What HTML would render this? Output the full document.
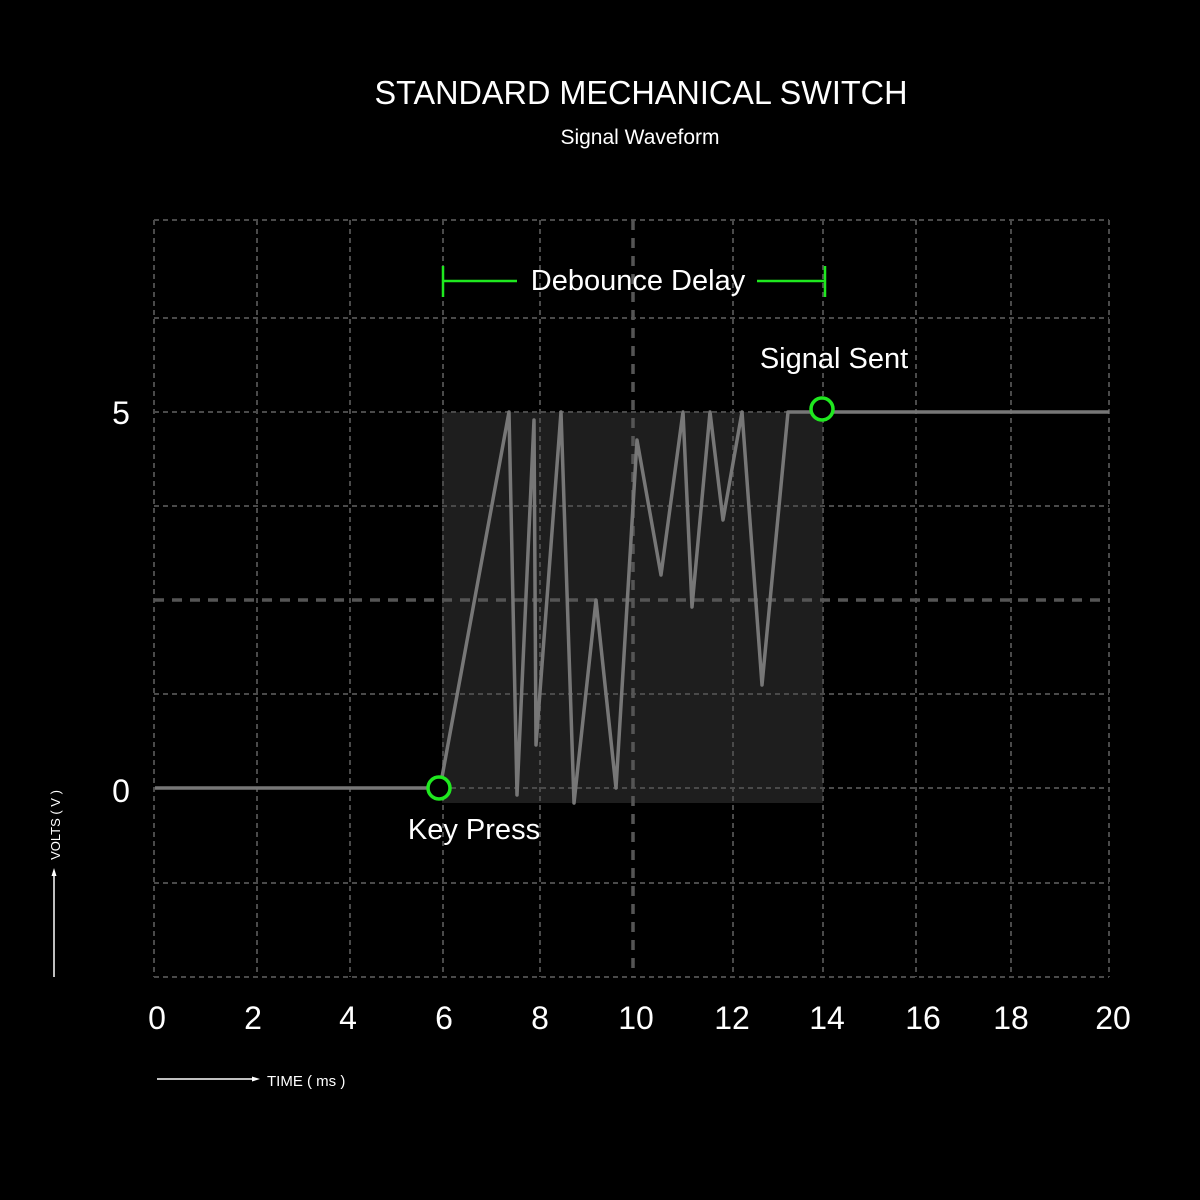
<!DOCTYPE html>
<html><head><meta charset="utf-8"><style>
html,body{margin:0;padding:0;background:#000;width:1200px;height:1200px;overflow:hidden}
text{font-family:"Liberation Sans",sans-serif;fill:#fff}
</style></head><body>
<svg width="1200" height="1200" viewBox="0 0 1200 1200" xmlns="http://www.w3.org/2000/svg">
<rect width="1200" height="1200" fill="#000"/>
<rect x="442" y="412" width="381" height="391" fill="#1e1e1e"/>
<g stroke="#4a4a4a" stroke-width="2" stroke-dasharray="5,4" fill="none">
<line x1="154" y1="220" x2="154" y2="977"/>
<line x1="257" y1="220" x2="257" y2="977"/>
<line x1="350" y1="220" x2="350" y2="977"/>
<line x1="443" y1="220" x2="443" y2="977"/>
<line x1="540" y1="220" x2="540" y2="977"/>
<line x1="733" y1="220" x2="733" y2="977"/>
<line x1="823" y1="220" x2="823" y2="977"/>
<line x1="916" y1="220" x2="916" y2="977"/>
<line x1="1011" y1="220" x2="1011" y2="977"/>
<line x1="1109" y1="220" x2="1109" y2="977"/>
<line x1="154" y1="220" x2="1109" y2="220"/>
<line x1="154" y1="318" x2="1109" y2="318"/>
<line x1="154" y1="412" x2="1109" y2="412"/>
<line x1="154" y1="506" x2="1109" y2="506"/>
<line x1="154" y1="694" x2="1109" y2="694"/>
<line x1="154" y1="788" x2="1109" y2="788"/>
<line x1="154" y1="883" x2="1109" y2="883"/>
<line x1="154" y1="977" x2="1109" y2="977"/>
</g>
<g stroke="#555" stroke-width="3.5" stroke-dasharray="10,8" fill="none">
<line x1="633" y1="220" x2="633" y2="977"/>
<line x1="154" y1="600" x2="1109" y2="600"/>
</g>
<polyline fill="none" stroke="#777" stroke-width="3.5" stroke-linejoin="round" points="155,788 440,788 509,412 517,795 534,420 536,745 561,412 574,803 596,600 616,788 637,440 661,575 683,412 692,607 710,412 723,520 742,412 762,685 788,412 822,412 1109,412"/>
<circle cx="439" cy="788" r="11" fill="#000" stroke="#1fe81f" stroke-width="3.5"/>
<circle cx="822" cy="409" r="11" fill="#000" stroke="#1fe81f" stroke-width="3.5"/>
<g stroke="#1fe81f" stroke-width="2.5">
<line x1="443" y1="266" x2="443" y2="297"/>
<line x1="443" y1="281" x2="517" y2="281"/>
<line x1="757" y1="281" x2="825" y2="281"/>
<line x1="825" y1="266" x2="825" y2="297"/>
</g>
<text x="641" y="104" font-size="33" text-anchor="middle" textLength="533" lengthAdjust="spacingAndGlyphs">STANDARD MECHANICAL SWITCH</text>
<text x="640" y="144" font-size="21" text-anchor="middle">Signal Waveform</text>
<text x="638" y="290" font-size="29" text-anchor="middle">Debounce Delay</text>
<text x="834" y="368" font-size="29" text-anchor="middle">Signal Sent</text>
<text x="474" y="839" font-size="29" text-anchor="middle">Key Press</text>
<text x="121" y="424" font-size="32" text-anchor="middle">5</text>
<text x="121" y="802" font-size="32" text-anchor="middle">0</text>
<g font-size="32" text-anchor="middle">
<text x="157" y="1029">0</text><text x="253" y="1029">2</text><text x="348" y="1029">4</text>
<text x="444" y="1029">6</text><text x="540" y="1029">8</text><text x="636" y="1029">10</text>
<text x="732" y="1029">12</text><text x="827" y="1029">14</text><text x="923" y="1029">16</text>
<text x="1011" y="1029">18</text><text x="1113" y="1029">20</text>
</g>
<line x1="157" y1="1079" x2="254" y2="1079" stroke="#fff" stroke-width="1.5"/>
<polygon points="260,1079 252,1076.5 252,1081.5" fill="#fff"/>
<text x="267" y="1086" font-size="15">TIME ( ms )</text>
<line x1="54" y1="977" x2="54" y2="874" stroke="#fff" stroke-width="1.5"/>
<polygon points="54,868 51.5,876 56.5,876" fill="#fff"/>
<text x="0" y="0" font-size="13" text-anchor="middle" transform="translate(60,825) rotate(-90)">VOLTS ( V )</text>
</svg>
</body></html>
